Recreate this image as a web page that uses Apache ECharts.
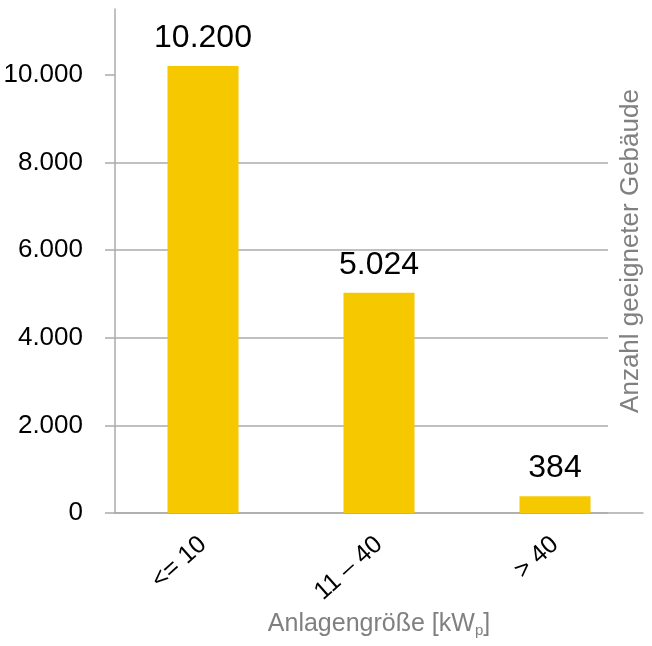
<!DOCTYPE html>
<html>
<head>
<meta charset="utf-8">
<script src="https://cdn.jsdelivr.net/npm/echarts@6/dist/echarts.min.js"></script>
<style>
html,body{margin:0;padding:0;background:#fff;}
#chart{width:652px;height:646px;}
</style>
</head>
<body>
<div id="chart"></div>
<script>
// Anlagengröße -> Anzahl geeigneter Gebäude
var categories = ['<= 10', '11 – 40', '> 40'];
var values = [10200, 5024, 384];
var yTicks = [0, 2000, 4000, 6000, 8000, 10000];
var yMax = 11500;

var FONT = "'Liberation Sans', Arial, sans-serif";
var GRAY = '#ababab';

function fmt(v){
	return String(v).replace(/\B(?=(\d{3})+(?!\d))/g, '.');
}

var chart = echarts.init(document.getElementById('chart'));

var option = {
	animation: false,
	textStyle: {fontFamily: FONT},
	grid: [
		{left: 115, right: 44, top: 9, bottom: 133, outerBoundsMode: 'none', containLabel: false},
		{left: 115, right: 9, top: 9, bottom: 133, outerBoundsMode: 'none', containLabel: false}
	],
	xAxis: [
		{gridIndex: 0, type: 'value', show: false},
		{
			gridIndex: 1, type: 'category', data: categories,
			axisLine: {lineStyle: {color: GRAY, width: 1.5}},
			axisTick: {length: 10, lineStyle: {color: GRAY, width: 1.5}},
			axisLabel: {rotate: 42, fontSize: 25, color: '#000', margin: 28, fontFamily: FONT},
			name: 'Anlagengröße [kW{sub|p}]',
			nameLocation: 'middle',
			nameGap: 94,
			nameTextStyle: {
				fontSize: 25, color: '#808080', fontFamily: FONT,
				rich: {sub: {fontSize: 15, color: '#808080', fontFamily: FONT, padding: [14, 0, 0, 0]}}
			}
		}
	],
	yAxis: [
		{
			gridIndex: 0, type: 'value', min: 0, max: yMax, interval: 2000,
			axisLine: {show: true, lineStyle: {color: GRAY, width: 1.5}},
			axisTick: {show: true, length: 10, customValues: yTicks, lineStyle: {color: GRAY, width: 1.5}},
			axisLabel: {customValues: yTicks, fontSize: 26, color: '#000', margin: 32, fontFamily: FONT, formatter: fmt},
			splitLine: {show: true, showMaxLine: false, lineStyle: {color: GRAY, width: 1.5}}
		},
		{gridIndex: 1, type: 'value', min: 0, max: yMax, show: false},
		{
			gridIndex: 0, type: 'value', position: 'right', min: 0, max: yMax,
			axisLine: {show: false}, axisTick: {show: false}, axisLabel: {show: false}, splitLine: {show: false},
			name: 'Anzahl geeigneter Gebäude',
			nameLocation: 'middle',
			nameRotate: 90,
			nameGap: 10,
			nameTextStyle: {fontSize: 26, color: '#808080', fontFamily: FONT, padding: [0, 0, 0, 20]}
		}
	],
	series: [{
		type: 'bar',
		xAxisIndex: 1,
		yAxisIndex: 1,
		data: values,
		barWidth: 71,
		itemStyle: {color: '#F5C800'},
		label: {
			show: true, position: 'top', distance: 12,
			fontSize: 32, color: '#000', fontFamily: FONT,
			formatter: function(p){ return fmt(p.value); }
		}
	}]
};

chart.setOption(option);
</script>
</body>
</html>
